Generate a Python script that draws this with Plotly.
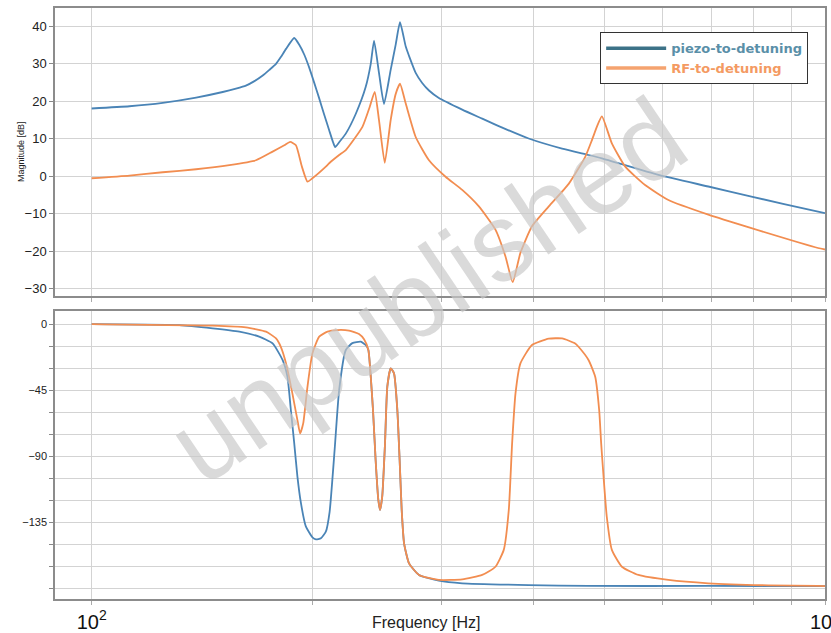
import plotly.graph_objects as go

# ---------------- data ----------------
f_mag_piezo = [100, 112.6, 125.0, 138.8, 150.9, 157.3, 162.3, 166.7, 171.1, 174.7, 178.4, 181.1, 184.1, 188.9,
               191.9, 194.9, 198.0, 201.1, 204.3, 207.5, 210.8, 213.4, 214.8, 217.5,
               222.1, 229.2, 236.4, 240.2, 242.7, 246.5, 250.4, 255.7, 259.8, 263.3,
               268.1, 270.9, 276.6, 282.3, 288.4, 297.5, 320.1, 340.8, 359.0, 394.4,
               438.0, 475.9, 496.3, 592.7, 693.2, 793.8, 978.4, 1000]
mag_piezo = [18.0, 18.6, 19.5, 20.9, 22.4, 23.3, 24.1, 25.3, 26.8, 28.3, 29.9, 31.7, 33.9, 36.8,
             35.0, 32.4, 28.9, 24.9, 20.7, 16.4, 12.2, 9.0, 7.7, 9.0,
             11.3, 16.6, 23.7, 29.9, 36.1, 27.5, 19.2, 28.3, 35.1, 41.0,
             34.5, 32.0, 27.5, 24.8, 22.8, 20.8, 17.7, 15.3, 13.3, 10.0,
             7.3, 5.6, 4.7, 0.3, -2.8, -5.5, -9.5, -9.9]

f_mag_rf = [100, 112.6, 125.0, 138.8, 154.1, 167.5, 176.5, 183.1, 186.5, 189.9,
            193.5, 196.9, 200.0, 208.6, 210.8, 217.5, 222.1, 234.0, 239.4, 243.2,
            246.5, 251.0, 255.7, 259.8, 263.3, 268.1, 276.6, 288.4, 303.8, 320.1,
            337.3, 355.3, 366.6, 375.1, 384.3, 398.5, 420.1, 447.2, 471.0, 480.9,
            488.5, 496.3, 512.1, 534.1, 568.4, 611.6, 693.2, 793.8, 978.4, 1000]
mag_rf = [-0.6, 0.1, 1.0, 1.8, 2.9, 4.2, 6.5, 8.2, 9.1, 8.2,
          2.5, -1.5, -0.6, 2.5, 3.4, 5.6, 6.9, 13.1, 18.4, 22.4,
          14.9, 3.5, 14.9, 21.9, 24.6, 19.3, 10.4, 4.2, -0.2, -3.7,
          -8.1, -14.3, -21.4, -28.3, -20.5, -13.4, -8.1, -2.1, 5.1, 9.5,
          13.1, 15.9, 8.7, 2.5, -2.4, -6.4, -10.3, -13.9, -19.2, -19.6]

f_ph_piezo = [100, 131.7, 146.2, 159.0, 169.2, 176.5, 182.1, 184.9, 186.9, 188.9,
              190.8, 192.9, 195.9, 200.0, 202.2, 205.4, 208.6, 211.1, 214.5, 217.5,
              222.1, 226.7, 232.8, 236.4, 238.4, 240.2, 241.9, 243.9, 246.0, 247.3,
              249.0, 251.2, 253.0, 255.7, 258.4, 261.1, 263.0, 264.7, 266.7, 270.9,
              279.5, 297.5, 320.1, 394.4, 475.9, 693.2, 978.4, 1000]
ph_piezo = [0, -0.7, -2.9, -5.2, -8.6, -13.2, -24.5, -35.9, -58.6, -81.4,
            -104, -122, -138, -145.4, -146.8, -146.1, -141.6, -128, -85, -45,
            -17.7, -13, -12, -14.3, -17.7, -35.9, -58.6, -92.7, -120, -126.8,
            -117.7, -81.4, -42.8, -30.2, -33.6, -58.6, -92.7, -126.8, -149.5, -163.2,
            -171.1, -175, -176.8, -178, -178.6, -178.6, -178.7, -178.7]

f_ph_rf = [100, 146.2, 162.3, 172.9, 178.4, 181.1, 184.1, 187.8, 190.8, 192.4,
           194.3, 196.9, 200.0, 204.3, 209.7, 216.3, 224.4, 231.5, 235.2, 238.4,
           240.2, 241.9, 243.9, 246.0, 247.3, 249.0, 251.2, 253.0, 255.7, 258.4,
           261.1, 263.0, 264.7, 266.7, 270.9, 279.5, 297.5, 320.1, 340.8, 355.3,
           364.7, 370.5, 374.4, 378.4, 384.3, 398.5, 420.1, 438.0, 456.4, 461.2,
           475.9, 486.0, 492.1, 495.2, 498.9, 504.0, 512.1, 528.5, 556.7, 611.6,
           693.2, 836.4, 978.4, 1000]
ph_rf = [0, -1.1, -2.3, -5.2, -9.8, -15.5, -26.8, -47.3, -65.5, -74.5,
         -67.7, -42.8, -20, -8.6, -5.2, -4.1, -4.5, -6.8, -10.4, -17.7,
         -35.9, -58.6, -92.7, -120, -126.8, -117.7, -81.4, -42.8, -30.2, -33.6,
         -58.6, -92.7, -126.8, -149.5, -163.2, -171.1, -174.5, -174.1, -171.1, -165.5,
         -154, -126.8, -81.4, -47.3, -26.8, -14.3, -10, -9.8, -13.2, -15.5,
         -24.5, -35.9, -58.6, -81.4, -104, -131.4, -154, -165.5, -171.1, -174.5,
         -176.8, -178.2, -178.6, -178.7]

x_tickvals = [100, 200, 300, 400, 500, 600, 700, 800, 900, 1000]
x_ticktext = ["10<sup>2</sup>", "", "", "", "", "", "", "", "", ""]
x_end_label = "10<sup>3</sup>"
mag_ticks = [-30, -20, -10, 0, 10, 20, 30, 40]
ph_ticks = [0, -45, -90, -135]
ph_minor = [-180, -165, -150, -120, -105, -75, -60, -30, -15]

names = ["piezo-to-detuning", "RF-to-detuning"]
# --------------------------------------

BLUE = "#4a84b6"
ORANGE = "#f28d50"
GRID = "#d3d3d3"
FRAME = "#8c8c8c"

fig = go.Figure()
line_kw = dict(shape="spline", smoothing=0.5)

fig.add_trace(go.Scatter(x=f_mag_piezo, y=mag_piezo, mode="lines", showlegend=False,
                         line=dict(color=BLUE, width=1.8, **line_kw), xaxis="x", yaxis="y"))
fig.add_trace(go.Scatter(x=f_mag_rf, y=mag_rf, mode="lines", showlegend=False,
                         line=dict(color=ORANGE, width=1.8, **line_kw), xaxis="x", yaxis="y"))
fig.add_trace(go.Scatter(x=f_ph_piezo, y=ph_piezo, mode="lines", showlegend=False,
                         line=dict(color=BLUE, width=1.8, **line_kw), xaxis="x2", yaxis="y2"))
fig.add_trace(go.Scatter(x=f_ph_rf, y=ph_rf, mode="lines", showlegend=False,
                         line=dict(color=ORANGE, width=1.8, **line_kw), xaxis="x2", yaxis="y2"))

# legend entries
fig.add_trace(go.Scatter(x=[None], y=[None], mode="lines", xaxis="x", yaxis="y",
                         name="<span style='color:#5a8fa8'><b>%s</b></span>" % names[0],
                         line=dict(color="#3c7287", width=3.5)))
fig.add_trace(go.Scatter(x=[None], y=[None], mode="lines", xaxis="x", yaxis="y",
                         name="<span style='color:#f49a62'><b>%s</b></span>" % names[1],
                         line=dict(color="#f5a36f", width=3.5)))

xcommon = dict(type="log", range=[1.95, 3.0], tickmode="array", tickvals=x_tickvals,
               showgrid=True, gridcolor=GRID, gridwidth=1, showline=True, mirror=True,
               linecolor=FRAME, linewidth=1.5, ticks="outside", ticklen=4, tickcolor="#aaaaaa",
               zeroline=False, automargin=False)

fig.update_layout(
    width=831, height=633,
    margin=dict(l=55, r=6, t=8, b=34),
    paper_bgcolor="white", plot_bgcolor="white",
    font=dict(family="Liberation Sans, Arial, sans-serif", color="#222222"),
    xaxis=dict(**xcommon, domain=[0, 1], anchor="y", showticklabels=False),
    xaxis2=dict(**xcommon, domain=[0, 1], anchor="y2", ticktext=x_ticktext,
                tickfont=dict(size=20, color="#111111")),
    yaxis=dict(domain=[0.5127, 1.0], range=[-32, 44.8], tickmode="array", tickvals=mag_ticks,
               showgrid=True, gridcolor=GRID, showline=True, mirror=True, linecolor=FRAME,
               linewidth=1.5, ticks="outside", ticklen=4, tickcolor="#888888", zeroline=False,
               tickfont=dict(size=13, color="#222222"), automargin=False),
    yaxis2=dict(domain=[0.0, 0.4873], range=[-187.5, 8.9], tickmode="array", tickvals=ph_ticks,
                showgrid=True, gridcolor=GRID, showline=True, mirror=True, linecolor=FRAME,
                linewidth=1.5, ticks="outside", ticklen=4, tickcolor="#888888", zeroline=False,
                tickfont=dict(size=11, color="#222222"), automargin=False,
                minor=dict(tickmode="array", tickvals=ph_minor, showgrid=True, gridcolor=GRID,
                           ticks="outside", ticklen=4, tickcolor="#888888")),
    legend=dict(x=0.708, y=0.959, xanchor="left", yanchor="top", bgcolor="white",
                bordercolor="#333333", borderwidth=1, font=dict(family="DejaVu Sans", size=13),
                itemwidth=60, tracegroupgap=2),
    annotations=[
        dict(text="Magnitude [dB]", xref="paper", yref="paper", x=(21 - 55) / 770,
             y=(599 - 152) / 591, xanchor="center", yanchor="middle", showarrow=False,
             textangle=-90, font=dict(size=9, color="#222222")),
        dict(text=x_end_label, xref="paper", yref="paper", x=1.0, y=-0.012,
             xanchor="center", yanchor="top", showarrow=False,
             font=dict(size=20, color="#111111")),
        dict(text="Frequency [Hz]", xref="paper", yref="paper", x=(426 - 55) / 770, y=-0.022,
             xanchor="center", yanchor="top", showarrow=False,
             font=dict(size=16, color="#222222")),
        dict(text="unpublished", xref="paper", yref="paper", x=(426 - 55) / 770,
             y=(599 - 290) / 591, xanchor="center", yanchor="middle", showarrow=False,
             textangle=-34, font=dict(size=110, color="rgba(200,200,200,0.68)",
                                      family="Liberation Sans, Arial, sans-serif")),
    ],
)

fig.write_html("out.html")
